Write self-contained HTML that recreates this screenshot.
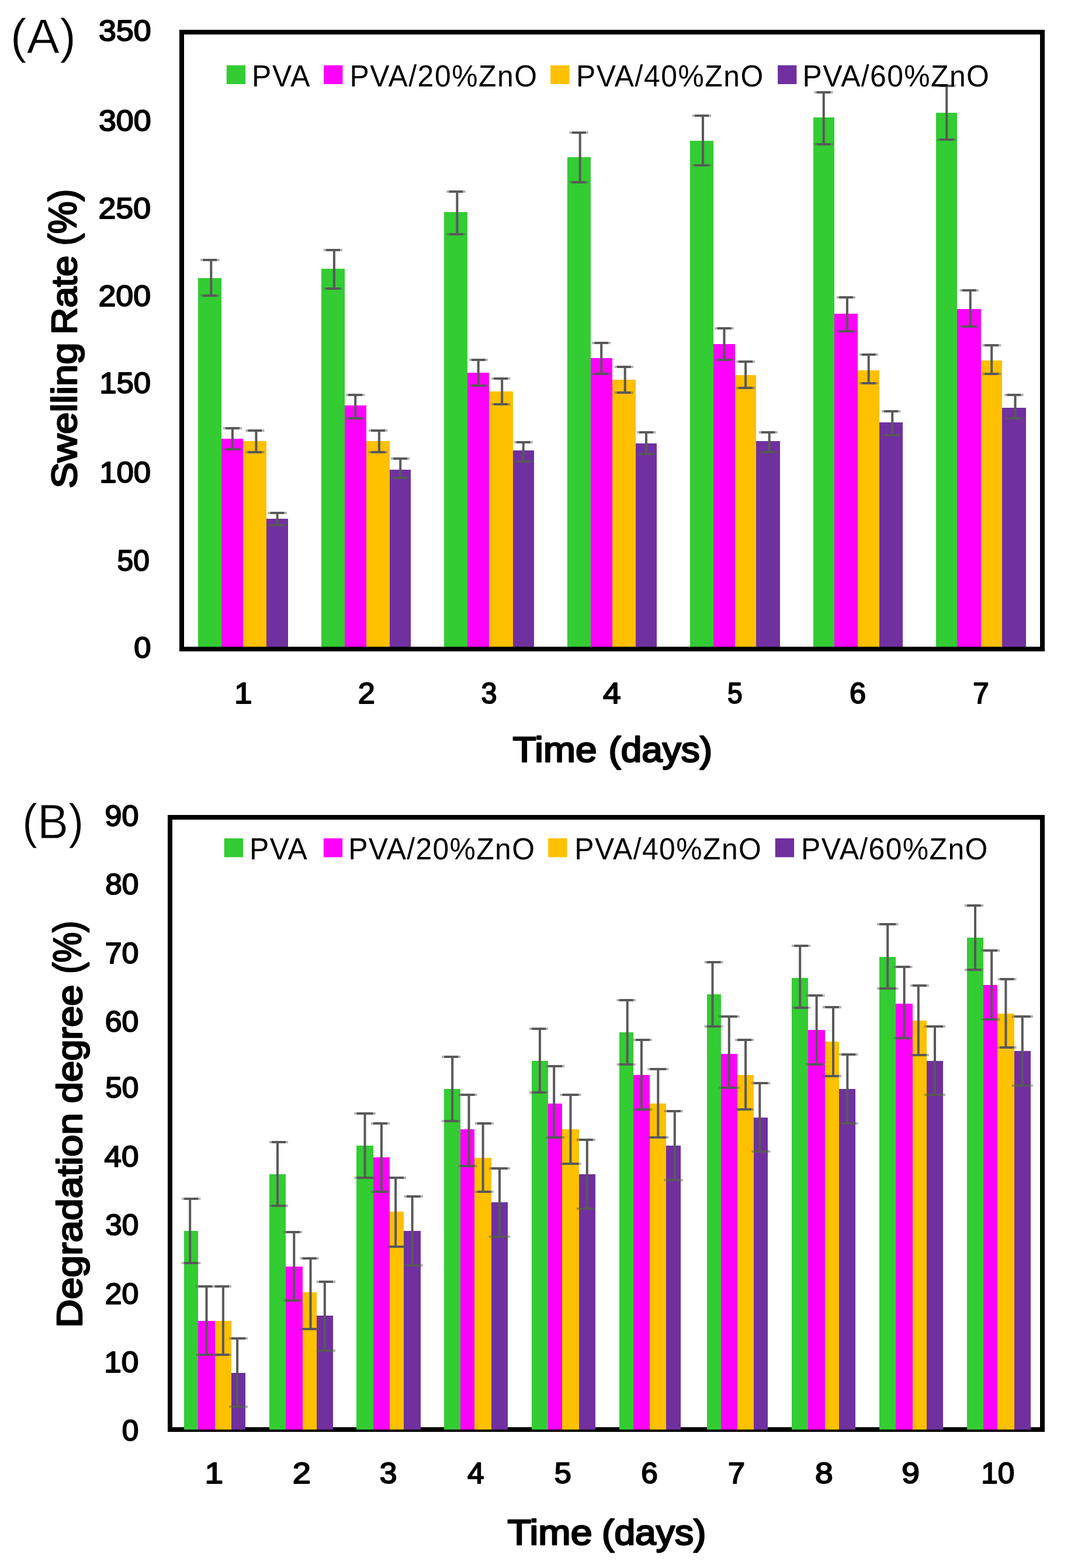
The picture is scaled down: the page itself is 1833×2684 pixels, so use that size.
<!DOCTYPE html>
<html lang="en"><head><meta charset="utf-8"><title>Swelling rate and degradation degree of PVA / ZnO films</title>
<style>
html,body{margin:0;padding:0;background:#fff;}
body{width:1833px;height:2684px;overflow:hidden;}
svg{display:block;font-family:"Liberation Sans",sans-serif;fill:#000;}
</style></head><body>
<svg width="1833" height="2684" viewBox="0 0 1833 2684">
<rect width="1833" height="2684" fill="#fff"/>

<g id="chartA">
<rect x="311" y="55" width="1473" height="1056" fill="#fff" stroke="#000" stroke-width="8"/>
<g shape-rendering="crispEdges">
<rect x="339" y="476" width="40" height="631" fill="#33CC33"/>
<rect x="379" y="751" width="37" height="356" fill="#FF00FF"/>
<rect x="416" y="755" width="40" height="352" fill="#FFC000"/>
<rect x="456" y="888" width="37" height="219" fill="#7030A0"/>
<rect x="550" y="460" width="40" height="647" fill="#33CC33"/>
<rect x="590" y="694" width="37" height="413" fill="#FF00FF"/>
<rect x="627" y="755" width="40" height="352" fill="#FFC000"/>
<rect x="667" y="804" width="36" height="303" fill="#7030A0"/>
<rect x="760" y="363" width="40" height="744" fill="#33CC33"/>
<rect x="800" y="638" width="37" height="469" fill="#FF00FF"/>
<rect x="837" y="670" width="41" height="437" fill="#FFC000"/>
<rect x="878" y="771" width="36" height="336" fill="#7030A0"/>
<rect x="971" y="269" width="40" height="838" fill="#33CC33"/>
<rect x="1011" y="613" width="37" height="494" fill="#FF00FF"/>
<rect x="1048" y="650" width="40" height="457" fill="#FFC000"/>
<rect x="1088" y="759" width="36" height="348" fill="#7030A0"/>
<rect x="1181" y="241" width="40" height="866" fill="#33CC33"/>
<rect x="1221" y="589" width="37" height="518" fill="#FF00FF"/>
<rect x="1258" y="642" width="36" height="465" fill="#FFC000"/>
<rect x="1294" y="755" width="41" height="352" fill="#7030A0"/>
<rect x="1392" y="201" width="36" height="906" fill="#33CC33"/>
<rect x="1428" y="537" width="40" height="570" fill="#FF00FF"/>
<rect x="1468" y="634" width="37" height="473" fill="#FFC000"/>
<rect x="1505" y="723" width="40" height="384" fill="#7030A0"/>
<rect x="1602" y="193" width="36" height="914" fill="#33CC33"/>
<rect x="1638" y="529" width="41" height="578" fill="#FF00FF"/>
<rect x="1679" y="617" width="36" height="490" fill="#FFC000"/>
<rect x="1715" y="698" width="41" height="409" fill="#7030A0"/>
</g>
<path d="M343.1 445H347.2M371.4 445H375.5M343.1 506H347.2M371.4 506H375.5M381.7 733H385.7M410.0 733H414.0M381.7 769H385.7M410.0 769H414.0M420.2 737H424.2M448.5 737H452.5M420.2 774H424.2M448.5 774H452.5M458.4 878H462.5M486.7 878H490.8M458.4 899H462.5M486.7 899H490.8M553.7 428H557.7M582.0 428H586.0M553.7 494H557.7M582.0 494H586.0M592.0 676H596.0M620.3 676H624.3M592.0 716H596.0M620.3 716H624.3M630.7 737H634.8M659.0 737H663.1M630.7 774H634.8M659.0 774H663.1M669.0 785H673.0M697.3 785H701.3M669.0 818H673.0M697.3 818H701.3M764.2 328H768.3M792.5 328H796.6M764.2 401H768.3M792.5 401H796.6M802.5 616H806.6M830.8 616H834.9M802.5 660H806.6M830.8 660H834.9M841.0 648H845.1M869.3 648H873.4M841.0 692H845.1M869.3 692H873.4M879.5 757H883.6M907.8 757H911.9M879.5 790H883.6M907.8 790H911.9M974.5 227H978.6M1002.8 227H1006.9M974.5 312H978.6M1002.8 312H1006.9M1013.0 587H1017.1M1041.3 587H1045.4M1013.0 640H1017.1M1041.3 640H1045.4M1051.5 628H1055.6M1079.8 628H1083.9M1051.5 672H1055.6M1079.8 672H1083.9M1089.8 740H1093.9M1118.1 740H1122.2M1089.8 777H1093.9M1118.1 777H1122.2M1184.8 198H1188.9M1213.1 198H1217.2M1184.8 283H1188.9M1213.1 283H1217.2M1223.3 562H1227.4M1251.6 562H1255.7M1223.3 616H1227.4M1251.6 616H1255.7M1259.9 619H1264.0M1288.2 619H1292.3M1259.9 664H1264.0M1288.2 664H1292.3M1298.5 740H1302.5M1326.8 740H1330.8M1298.5 774H1302.5M1326.8 774H1330.8M1393.5 158H1397.5M1421.8 158H1425.8M1393.5 247H1397.5M1421.8 247H1425.8M1431.7 509H1435.8M1460.0 509H1464.1M1431.7 567H1435.8M1460.0 567H1464.1M1470.5 607H1474.5M1498.8 607H1502.8M1470.5 656H1474.5M1498.8 656H1502.8M1509.0 704H1513.1M1537.3 704H1541.4M1509.0 745H1513.1M1537.3 745H1541.4M1604.0 147H1608.1M1632.3 147H1636.4M1604.0 239H1608.1M1632.3 239H1636.4M1642.5 497H1646.6M1670.8 497H1674.9M1642.5 559H1646.6M1670.8 559H1674.9M1681.0 591H1685.1M1709.3 591H1713.4M1681.0 640H1685.1M1709.3 640H1713.4M1719.3 676H1723.4M1747.6 676H1751.7M1719.3 716H1723.4M1747.6 716H1751.7" stroke="#595959" stroke-opacity="0.45" stroke-width="4.0" fill="none"/>
<path d="M347.2 445H371.4M347.2 506H371.4M361.3 445V506M385.7 733H410.0M385.7 769H410.0M397.9 733V769M424.2 737H448.5M424.2 774H448.5M438.4 737V774M462.5 878H486.7M462.5 899H486.7M474.6 878V899M557.7 428H582.0M557.7 494H582.0M571.9 428V494M596.0 676H620.3M596.0 716H620.3M608.2 676V716M634.8 737H659.0M634.8 774H659.0M648.9 737V774M673.0 785H697.3M673.0 818H697.3M685.2 785V818M768.3 328H792.5M768.3 401H792.5M782.4 328V401M806.6 616H830.8M806.6 660H830.8M818.7 616V660M845.1 648H869.3M845.1 692H869.3M859.2 648V692M883.6 757H907.8M883.6 790H907.8M895.7 757V790M978.6 227H1002.8M978.6 312H1002.8M992.7 227V312M1017.1 587H1041.3M1017.1 640H1041.3M1029.2 587V640M1055.6 628H1079.8M1055.6 672H1079.8M1069.7 628V672M1093.9 740H1118.1M1093.9 777H1118.1M1106.0 740V777M1188.9 198H1213.1M1188.9 283H1213.1M1203.0 198V283M1227.4 562H1251.6M1227.4 616H1251.6M1239.5 562V616M1264.0 619H1288.2M1264.0 664H1288.2M1276.1 619V664M1302.5 740H1326.8M1302.5 774H1326.8M1316.7 740V774M1397.5 158H1421.8M1397.5 247H1421.8M1409.7 158V247M1435.8 509H1460.0M1435.8 567H1460.0M1449.9 509V567M1474.5 607H1498.8M1474.5 656H1498.8M1486.7 607V656M1513.1 704H1537.3M1513.1 745H1537.3M1527.2 704V745M1608.1 147H1632.3M1608.1 239H1632.3M1620.2 147V239M1646.6 497H1670.8M1646.6 559H1670.8M1660.7 497V559M1685.1 591H1709.3M1685.1 640H1709.3M1697.2 591V640M1723.4 676H1747.6M1723.4 716H1747.6M1737.5 676V716" stroke="#595959" stroke-width="4.0" fill="none"/>
<rect x="387.8" y="111.7" width="32.3" height="32.3" fill="#33CC33"/>
<rect x="554.2" y="111.7" width="32.3" height="32.3" fill="#FF00FF"/>
<rect x="942.2" y="111.7" width="32.3" height="32.3" fill="#FFC000"/>
<rect x="1331.1" y="111.7" width="32.3" height="32.3" fill="#7030A0"/>
<text transform="translate(431.00 147.50) scale(0.95,1)" font-size="52.5" textLength="104.63" lengthAdjust="spacing">PVA</text>
<text transform="translate(598.50 147.50) scale(0.95,1)" font-size="52.5" textLength="337.46" lengthAdjust="spacing">PVA/20%ZnO</text>
<text transform="translate(986.00 147.50) scale(0.95,1)" font-size="52.5" textLength="337.14" lengthAdjust="spacing">PVA/40%ZnO</text>
<text transform="translate(1373.50 147.50) scale(0.95,1)" font-size="52.5" textLength="336.17" lengthAdjust="spacing">PVA/60%ZnO</text>
<text transform="translate(169.00 69.70)" font-size="50" stroke="#000" stroke-width="2.0" stroke-linejoin="round" textLength="89.54" lengthAdjust="spacingAndGlyphs">350</text>
<text transform="translate(169.00 224.00)" font-size="50" stroke="#000" stroke-width="2.0" stroke-linejoin="round" textLength="89.54" lengthAdjust="spacingAndGlyphs">300</text>
<text transform="translate(168.50 373.70)" font-size="50" stroke="#000" stroke-width="2.0" stroke-linejoin="round" textLength="89.54" lengthAdjust="spacingAndGlyphs">250</text>
<text transform="translate(168.50 523.60)" font-size="50" stroke="#000" stroke-width="2.0" stroke-linejoin="round" textLength="89.54" lengthAdjust="spacingAndGlyphs">200</text>
<text transform="translate(170.30 673.30)" font-size="50" stroke="#000" stroke-width="2.0" stroke-linejoin="round" textLength="87.78" lengthAdjust="spacingAndGlyphs">150</text>
<text transform="translate(170.30 826.40)" font-size="50" stroke="#000" stroke-width="2.0" stroke-linejoin="round" textLength="87.78" lengthAdjust="spacingAndGlyphs">100</text>
<text transform="translate(200.50 976.50)" font-size="50" stroke="#000" stroke-width="2.0" stroke-linejoin="round" textLength="55.27" lengthAdjust="spacingAndGlyphs">50</text>
<text transform="translate(229.30 1126.20)" font-size="50" stroke="#000" stroke-width="2.0" stroke-linejoin="round" textLength="29.14" lengthAdjust="spacingAndGlyphs">0</text>
<text transform="translate(401.00 1203.70)" font-size="50" stroke="#000" stroke-width="2.0" stroke-linejoin="round" textLength="30.52" lengthAdjust="spacingAndGlyphs">1</text>
<text transform="translate(612.80 1203.70)" font-size="50" stroke="#000" stroke-width="2.0" stroke-linejoin="round" textLength="29.02" lengthAdjust="spacingAndGlyphs">2</text>
<text transform="translate(823.60 1203.70)" font-size="50" stroke="#000" stroke-width="2.0" stroke-linejoin="round" textLength="27.00" lengthAdjust="spacingAndGlyphs">3</text>
<text transform="translate(1032.00 1203.70)" font-size="50" stroke="#000" stroke-width="2.0" stroke-linejoin="round" textLength="30.60" lengthAdjust="spacingAndGlyphs">4</text>
<text transform="translate(1245.00 1203.70)" font-size="50" stroke="#000" stroke-width="2.0" stroke-linejoin="round" textLength="25.68" lengthAdjust="spacingAndGlyphs">5</text>
<text transform="translate(1454.00 1203.70)" font-size="50" stroke="#000" stroke-width="2.0" stroke-linejoin="round" textLength="28.01" lengthAdjust="spacingAndGlyphs">6</text>
<text transform="translate(1665.20 1203.70)" font-size="50" stroke="#000" stroke-width="2.0" stroke-linejoin="round" textLength="27.39" lengthAdjust="spacingAndGlyphs">7</text>
<text transform="translate(877.50 1303.90)" font-size="60.5" stroke="#000" stroke-width="2.6" stroke-linejoin="round" textLength="144.05" lengthAdjust="spacingAndGlyphs">Time</text>
<text transform="translate(1041.50 1303.90)" font-size="60.5" stroke="#000" stroke-width="2.6" stroke-linejoin="round" textLength="177.55" lengthAdjust="spacingAndGlyphs">(days)</text>
<text transform="translate(131.20 836.00) rotate(-90)" font-size="60.5" stroke="#000" stroke-width="2.6" stroke-linejoin="round" textLength="249.61" lengthAdjust="spacingAndGlyphs">Swelling</text>
<text transform="translate(131.20 572.70) rotate(-90)" font-size="60.5" stroke="#000" stroke-width="2.6" stroke-linejoin="round" textLength="135.19" lengthAdjust="spacingAndGlyphs">Rate</text>
<text transform="translate(129.70 420.60) rotate(-90)" font-size="66" stroke="#000" stroke-width="2.6" stroke-linejoin="round" textLength="96.73" lengthAdjust="spacingAndGlyphs">(%)</text>
<text transform="translate(17.70 91.00)" font-size="82.5" stroke="#fff" stroke-width="0.8" stroke-linejoin="round" textLength="112.23" lengthAdjust="spacingAndGlyphs">(A)</text>
</g>
<g id="chartB">
<rect x="291" y="1399" width="1493" height="1048" fill="#fff" stroke="#000" stroke-width="8"/>
<g shape-rendering="crispEdges">
<rect x="315" y="2107" width="24" height="340" fill="#33CC33"/>
<rect x="339" y="2261" width="29" height="186" fill="#FF00FF"/>
<rect x="368" y="2261" width="28" height="186" fill="#FFC000"/>
<rect x="396" y="2350" width="24" height="97" fill="#7030A0"/>
<rect x="461" y="2010" width="28" height="437" fill="#33CC33"/>
<rect x="489" y="2168" width="29" height="279" fill="#FF00FF"/>
<rect x="518" y="2212" width="24" height="235" fill="#FFC000"/>
<rect x="542" y="2252" width="28" height="195" fill="#7030A0"/>
<rect x="610" y="1961" width="29" height="486" fill="#33CC33"/>
<rect x="639" y="1981" width="28" height="466" fill="#FF00FF"/>
<rect x="667" y="2074" width="24" height="373" fill="#FFC000"/>
<rect x="691" y="2107" width="29" height="340" fill="#7030A0"/>
<rect x="760" y="1864" width="28" height="583" fill="#33CC33"/>
<rect x="788" y="1933" width="24" height="514" fill="#FF00FF"/>
<rect x="812" y="1982" width="29" height="465" fill="#FFC000"/>
<rect x="841" y="2058" width="28" height="389" fill="#7030A0"/>
<rect x="910" y="1816" width="28" height="631" fill="#33CC33"/>
<rect x="938" y="1889" width="24" height="558" fill="#FF00FF"/>
<rect x="962" y="1933" width="29" height="514" fill="#FFC000"/>
<rect x="991" y="2010" width="28" height="437" fill="#7030A0"/>
<rect x="1060" y="1767" width="24" height="680" fill="#33CC33"/>
<rect x="1084" y="1840" width="28" height="607" fill="#FF00FF"/>
<rect x="1112" y="1889" width="28" height="558" fill="#FFC000"/>
<rect x="1140" y="1961" width="25" height="486" fill="#7030A0"/>
<rect x="1210" y="1702" width="24" height="745" fill="#33CC33"/>
<rect x="1234" y="1804" width="28" height="643" fill="#FF00FF"/>
<rect x="1262" y="1840" width="28" height="607" fill="#FFC000"/>
<rect x="1290" y="1913" width="24" height="534" fill="#7030A0"/>
<rect x="1355" y="1674" width="28" height="773" fill="#33CC33"/>
<rect x="1383" y="1763" width="29" height="684" fill="#FF00FF"/>
<rect x="1412" y="1783" width="24" height="664" fill="#FFC000"/>
<rect x="1436" y="1864" width="28" height="583" fill="#7030A0"/>
<rect x="1505" y="1638" width="28" height="809" fill="#33CC33"/>
<rect x="1533" y="1718" width="29" height="729" fill="#FF00FF"/>
<rect x="1562" y="1747" width="24" height="700" fill="#FFC000"/>
<rect x="1586" y="1816" width="28" height="631" fill="#7030A0"/>
<rect x="1655" y="1605" width="28" height="842" fill="#33CC33"/>
<rect x="1683" y="1686" width="24" height="761" fill="#FF00FF"/>
<rect x="1707" y="1735" width="29" height="712" fill="#FFC000"/>
<rect x="1736" y="1799" width="28" height="648" fill="#7030A0"/>
</g>
<path d="M311.1 2052H315.1M339.4 2052H343.4M311.1 2162H315.1M339.4 2162H343.4M335.3 2202H339.4M363.6 2202H367.7M335.3 2319H339.4M363.6 2319H367.7M363.7 2202H367.7M392.0 2202H396.0M363.7 2319H367.7M392.0 2319H396.0M391.9 2291H395.9M420.2 2291H424.2M391.9 2408H395.9M420.2 2408H424.2M460.8 1955H464.8M489.1 1955H493.1M460.8 2064H464.8M489.1 2064H493.1M485.1 2109H489.2M513.4 2109H517.5M485.1 2226H489.2M513.4 2226H517.5M513.4 2154H517.4M541.7 2154H545.7M513.4 2275H517.4M541.7 2275H545.7M541.6 2194H545.7M569.9 2194H574.0M541.6 2312H545.7M569.9 2312H574.0M606.4 1906H610.4M638.7 1906H642.7M606.4 2016H610.4M638.7 2016H642.7M634.7 1923H638.8M663.0 1923H667.1M634.7 2040H638.8M663.0 2040H667.1M662.9 2016H667.0M691.2 2016H695.3M662.9 2134H667.0M691.2 2134H695.3M691.4 2048H695.5M719.7 2048H723.8M691.4 2166H695.5M719.7 2166H723.8M756.0 1809H760.1M784.3 1809H788.4M756.0 1919H760.1M784.3 1919H788.4M784.3 1874H788.3M812.6 1874H816.6M784.3 1996H788.3M812.6 1996H816.6M812.5 1923H816.5M840.8 1923H844.8M812.5 2040H816.5M840.8 2040H844.8M836.8 2000H840.9M869.1 2000H873.2M836.8 2117H840.9M869.1 2117H873.2M905.8 1761H909.9M934.1 1761H938.2M905.8 1870H909.9M934.1 1870H938.2M934.1 1825H938.1M962.4 1825H966.4M934.1 1947H938.1M962.4 1947H966.4M958.3 1874H962.3M990.6 1874H994.6M958.3 1992H962.3M990.6 1992H994.6M986.6 1951H990.7M1014.9 1951H1019.0M986.6 2069H990.7M1014.9 2069H1019.0M1055.5 1712H1059.5M1083.8 1712H1087.8M1055.5 1822H1059.5M1083.8 1822H1087.8M1083.7 1780H1087.8M1112.0 1780H1116.1M1083.7 1899H1087.8M1112.0 1899H1116.1M1108.1 1830H1112.2M1140.4 1830H1144.5M1108.1 1947H1112.2M1140.4 1947H1144.5M1136.6 1902H1140.6M1164.9 1902H1168.9M1136.6 2020H1140.6M1164.9 2020H1168.9M1205.4 1647H1209.4M1233.7 1647H1237.7M1205.4 1757H1209.4M1233.7 1757H1237.7M1229.6 1740H1233.6M1261.9 1740H1265.9M1229.6 1862H1233.6M1261.9 1862H1265.9M1257.9 1780H1262.0M1286.2 1780H1290.3M1257.9 1899H1262.0M1286.2 1899H1290.3M1286.2 1854H1290.2M1314.5 1854H1318.5M1286.2 1971H1290.2M1314.5 1971H1318.5M1355.0 1619H1359.1M1383.3 1619H1387.4M1355.0 1725H1359.1M1383.3 1725H1387.4M1379.4 1704H1383.4M1407.7 1704H1411.7M1379.4 1822H1383.4M1407.7 1822H1411.7M1407.8 1724H1411.9M1436.1 1724H1440.2M1407.8 1842H1411.9M1436.1 1842H1440.2M1436.2 1805H1440.2M1464.5 1805H1468.5M1436.2 1923H1440.2M1464.5 1923H1468.5M1501.0 1582H1505.1M1533.3 1582H1537.4M1501.0 1692H1505.1M1533.3 1692H1537.4M1529.4 1655H1533.4M1557.7 1655H1561.7M1529.4 1777H1533.4M1557.7 1777H1561.7M1557.6 1687H1561.6M1585.9 1687H1589.9M1557.6 1806H1561.6M1585.9 1806H1589.9M1581.8 1757H1585.9M1614.1 1757H1618.2M1581.8 1874H1585.9M1614.1 1874H1618.2M1650.8 1550H1654.9M1679.1 1550H1683.2M1650.8 1660H1654.9M1679.1 1660H1683.2M1679.1 1627H1683.1M1707.4 1627H1711.4M1679.1 1745H1683.1M1707.4 1745H1711.4M1707.3 1676H1711.3M1735.6 1676H1739.6M1707.3 1793H1711.3M1735.6 1793H1739.6M1731.6 1740H1735.7M1763.9 1740H1768.0M1731.6 1858H1735.7M1763.9 1858H1768.0" stroke="#595959" stroke-opacity="0.45" stroke-width="4.0" fill="none"/>
<path d="M315.1 2052H339.4M315.1 2162H339.4M325.2 2052V2162M339.4 2202H363.6M339.4 2319H363.6M353.5 2202V2319M367.7 2202H392.0M367.7 2319H392.0M381.9 2202V2319M395.9 2291H420.2M395.9 2408H420.2M406.1 2291V2408M464.8 1955H489.1M464.8 2064H489.1M475.0 1955V2064M489.2 2109H513.4M489.2 2226H513.4M503.3 2109V2226M517.4 2154H541.7M517.4 2275H541.7M531.5 2154V2275M545.7 2194H569.9M545.7 2312H569.9M555.8 2194V2312M610.4 1906H638.7M610.4 2016H638.7M624.5 1906V2016M638.8 1923H663.0M638.8 2040H663.0M652.9 1923V2040M667.0 2016H691.2M667.0 2134H691.2M677.1 2016V2134M695.5 2048H719.7M695.5 2166H719.7M705.6 2048V2166M760.1 1809H784.3M760.1 1919H784.3M774.2 1809V1919M788.3 1874H812.6M788.3 1996H812.6M802.5 1874V1996M816.5 1923H840.8M816.5 2040H840.8M826.6 1923V2040M840.9 2000H869.1M840.9 2117H869.1M855.0 2000V2117M909.9 1761H934.1M909.9 1870H934.1M924.0 1761V1870M938.1 1825H962.4M938.1 1947H962.4M948.2 1825V1947M962.3 1874H990.6M962.3 1992H990.6M976.5 1874V1992M990.7 1951H1014.9M990.7 2069H1014.9M1004.8 1951V2069M1059.5 1712H1083.8M1059.5 1822H1083.8M1073.7 1712V1822M1087.8 1780H1112.0M1087.8 1899H1112.0M1097.9 1780V1899M1112.2 1830H1140.4M1112.2 1947H1140.4M1126.3 1830V1947M1140.6 1902H1164.9M1140.6 2020H1164.9M1154.8 1902V2020M1209.4 1647H1233.7M1209.4 1757H1233.7M1219.5 1647V1757M1233.6 1740H1261.9M1233.6 1862H1261.9M1247.8 1740V1862M1262.0 1780H1286.2M1262.0 1899H1286.2M1276.1 1780V1899M1290.2 1854H1314.5M1290.2 1971H1314.5M1300.3 1854V1971M1359.1 1619H1383.3M1359.1 1725H1383.3M1369.2 1619V1725M1383.4 1704H1407.7M1383.4 1822H1407.7M1397.6 1704V1822M1411.9 1724H1436.1M1411.9 1842H1436.1M1426.0 1724V1842M1440.2 1805H1464.5M1440.2 1923H1464.5M1450.3 1805V1923M1505.1 1582H1533.3M1505.1 1692H1533.3M1519.2 1582V1692M1533.4 1655H1557.7M1533.4 1777H1557.7M1547.6 1655V1777M1561.6 1687H1585.9M1561.6 1806H1585.9M1571.8 1687V1806M1585.9 1757H1614.1M1585.9 1874H1614.1M1600.0 1757V1874M1654.9 1550H1679.1M1654.9 1660H1679.1M1669.0 1550V1660M1683.1 1627H1707.4M1683.1 1745H1707.4M1697.2 1627V1745M1711.3 1676H1735.6M1711.3 1793H1735.6M1721.4 1676V1793M1735.7 1740H1763.9M1735.7 1858H1763.9M1749.8 1740V1858" stroke="#595959" stroke-width="4.0" fill="none"/>
<rect x="383.7" y="1435.0" width="32.3" height="32.3" fill="#33CC33"/>
<rect x="553.8" y="1435.0" width="32.3" height="32.3" fill="#FF00FF"/>
<rect x="938.2" y="1435.0" width="32.3" height="32.3" fill="#FFC000"/>
<rect x="1326.8" y="1435.0" width="32.3" height="32.3" fill="#7030A0"/>
<text transform="translate(427.00 1471.00) scale(0.95,1)" font-size="52.5" textLength="104.09" lengthAdjust="spacing">PVA</text>
<text transform="translate(596.20 1471.00) scale(0.95,1)" font-size="52.5" textLength="335.53" lengthAdjust="spacing">PVA/20%ZnO</text>
<text transform="translate(983.30 1471.00) scale(0.95,1)" font-size="52.5" textLength="336.38" lengthAdjust="spacing">PVA/40%ZnO</text>
<text transform="translate(1371.00 1471.00) scale(0.95,1)" font-size="52.5" textLength="336.17" lengthAdjust="spacing">PVA/60%ZnO</text>
<text transform="translate(179.50 1413.60)" font-size="50" stroke="#000" stroke-width="2.0" stroke-linejoin="round" textLength="57.81" lengthAdjust="spacingAndGlyphs">90</text>
<text transform="translate(180.30 1531.20)" font-size="50" stroke="#000" stroke-width="2.0" stroke-linejoin="round" textLength="57.10" lengthAdjust="spacingAndGlyphs">80</text>
<text transform="translate(179.80 1648.60)" font-size="50" stroke="#000" stroke-width="2.0" stroke-linejoin="round" textLength="57.60" lengthAdjust="spacingAndGlyphs">70</text>
<text transform="translate(179.80 1765.90)" font-size="50" stroke="#000" stroke-width="2.0" stroke-linejoin="round" textLength="57.60" lengthAdjust="spacingAndGlyphs">60</text>
<text transform="translate(180.30 1879.20)" font-size="50" stroke="#000" stroke-width="2.0" stroke-linejoin="round" textLength="57.10" lengthAdjust="spacingAndGlyphs">50</text>
<text transform="translate(178.50 1996.50)" font-size="50" stroke="#000" stroke-width="2.0" stroke-linejoin="round" textLength="58.86" lengthAdjust="spacingAndGlyphs">40</text>
<text transform="translate(180.30 2113.90)" font-size="50" stroke="#000" stroke-width="2.0" stroke-linejoin="round" textLength="57.10" lengthAdjust="spacingAndGlyphs">30</text>
<text transform="translate(179.80 2231.50)" font-size="50" stroke="#000" stroke-width="2.0" stroke-linejoin="round" textLength="57.60" lengthAdjust="spacingAndGlyphs">20</text>
<text transform="translate(178.30 2348.80)" font-size="50" stroke="#000" stroke-width="2.0" stroke-linejoin="round" textLength="59.10" lengthAdjust="spacingAndGlyphs">10</text>
<text transform="translate(208.80 2465.70)" font-size="50" stroke="#000" stroke-width="2.0" stroke-linejoin="round" textLength="28.53" lengthAdjust="spacingAndGlyphs">0</text>
<text transform="translate(350.40 2538.90)" font-size="50" stroke="#000" stroke-width="2.0" stroke-linejoin="round" textLength="31.64" lengthAdjust="spacingAndGlyphs">1</text>
<text transform="translate(500.80 2538.90)" font-size="50" stroke="#000" stroke-width="2.0" stroke-linejoin="round" textLength="31.16" lengthAdjust="spacingAndGlyphs">2</text>
<text transform="translate(649.70 2538.90)" font-size="50" stroke="#000" stroke-width="2.0" stroke-linejoin="round" textLength="29.75" lengthAdjust="spacingAndGlyphs">3</text>
<text transform="translate(800.00 2538.90)" font-size="50" stroke="#000" stroke-width="2.0" stroke-linejoin="round" textLength="28.67" lengthAdjust="spacingAndGlyphs">4</text>
<text transform="translate(948.80 2538.90)" font-size="50" stroke="#000" stroke-width="2.0" stroke-linejoin="round" textLength="29.04" lengthAdjust="spacingAndGlyphs">5</text>
<text transform="translate(1097.20 2538.90)" font-size="50" stroke="#000" stroke-width="2.0" stroke-linejoin="round" textLength="28.52" lengthAdjust="spacingAndGlyphs">6</text>
<text transform="translate(1246.00 2538.90)" font-size="50" stroke="#000" stroke-width="2.0" stroke-linejoin="round" textLength="29.02" lengthAdjust="spacingAndGlyphs">7</text>
<text transform="translate(1394.90 2538.90)" font-size="50" stroke="#000" stroke-width="2.0" stroke-linejoin="round" textLength="30.66" lengthAdjust="spacingAndGlyphs">8</text>
<text transform="translate(1543.30 2538.90)" font-size="50" stroke="#000" stroke-width="2.0" stroke-linejoin="round" textLength="30.65" lengthAdjust="spacingAndGlyphs">9</text>
<text transform="translate(1679.30 2538.90)" font-size="50" stroke="#000" stroke-width="2.0" stroke-linejoin="round" textLength="57.06" lengthAdjust="spacingAndGlyphs">10</text>
<text transform="translate(868.50 2643.80)" font-size="60.5" stroke="#000" stroke-width="2.6" stroke-linejoin="round" textLength="145.17" lengthAdjust="spacingAndGlyphs">Time</text>
<text transform="translate(1030.00 2643.80)" font-size="60.5" stroke="#000" stroke-width="2.6" stroke-linejoin="round" textLength="178.47" lengthAdjust="spacingAndGlyphs">(days)</text>
<text transform="translate(140.00 2272.80) rotate(-90)" font-size="60.5" stroke="#000" stroke-width="2.6" stroke-linejoin="round" textLength="367.92" lengthAdjust="spacingAndGlyphs">Degradation</text>
<text transform="translate(140.00 1888.20) rotate(-90)" font-size="60.5" stroke="#000" stroke-width="2.6" stroke-linejoin="round" textLength="202.49" lengthAdjust="spacingAndGlyphs">degree</text>
<text transform="translate(138.10 1666.80) rotate(-90)" font-size="66" stroke="#000" stroke-width="2.6" stroke-linejoin="round" textLength="90.51" lengthAdjust="spacingAndGlyphs">(%)</text>
<text transform="translate(38.00 1435.40)" font-size="82.5" stroke="#fff" stroke-width="0.8" stroke-linejoin="round" textLength="105.39" lengthAdjust="spacingAndGlyphs">(B)</text>
</g>
</svg>
</body></html>
